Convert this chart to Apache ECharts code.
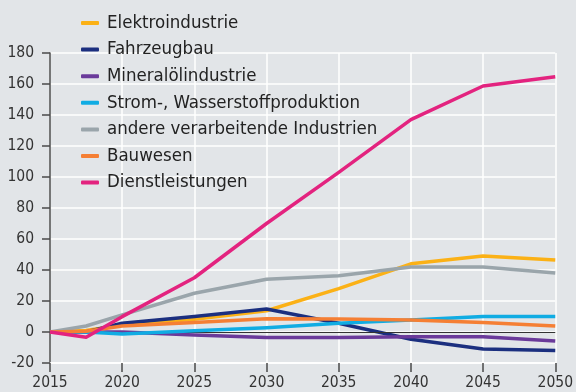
<!DOCTYPE html>
<html>
<head>
<meta charset="utf-8">
<script src="https://cdn.jsdelivr.net/npm/echarts@6/dist/echarts.min.js"></script>
<style>
  html, body { margin: 0; padding: 0; background: #e2e5e8; }
  #chart { width: 576px; height: 392px; }
</style>
</head>
<body>
<div id="chart"></div>
<script>
// Jahre der Stützstellen
const years = [2015, 2017.5, 2020, 2025, 2030, 2035, 2040, 2045, 2050];

// Reihen: Veränderung je Branche
const seriesNames = [
  'Elektroindustrie',
  'Fahrzeugbau',
  'Mineralölindustrie',
  'Strom-, Wasserstoffproduktion',
  'andere verarbeitende Industrien',
  'Bauwesen',
  'Dienstleistungen'
];
const elektro      = [0, 1, 4.5, 8.2, 13.7, 28, 44, 49, 46.5];
const fahrzeug     = [0, 0, 5.6, 10, 14.8, 5.6, -4.7, -11, -12];
const mineraloel   = [0, 0, 0, -2, -3.6, -3.6, -3, -3, -5.8];
const stromH2      = [0, 0, -1.3, 0.8, 2.8, 5.6, 7.7, 10, 10];
const andere       = [0, 3.9, 11, 25, 34, 36.3, 42, 42, 38];
const bauwesen     = [0, 0.5, 3.9, 6.2, 8.6, 8.4, 7.7, 6.2, 3.9];
const dienst       = [0, -3.4, 9.9, 35, 70, 103, 137, 158.7, 164.7];

const colors = ['#fbb116', '#1b2f7f', '#6a3a9a', '#10ace3', '#9aa5ab', '#f57f34', '#e3237f'];
const values = [elektro, fahrzeug, mineraloel, stromH2, andere, bauwesen, dienst];

// Tick-Beschriftungen
const yTicks = [-20, 0, 20, 40, 60, 80, 100, 120, 140, 160, 180];
const xTicks = [2015, 2020, 2025, 2030, 2035, 2040, 2045, 2050];

const font = '"Liberation Sans Narrow", "DejaVu Sans Condensed", "Roboto", sans-serif';
const axisDark = '#4a4a4a';

const lineSeries = values.map((vals, i) => ({
  name: seriesNames[i],
  type: 'line',
  data: years.map((y, k) => [y, vals[k]]),
  symbol: 'none',
  lineStyle: { color: colors[i], width: 3.5, join: 'round' },
  itemStyle: { color: colors[i] },
  z: 3 + i
}));

// Nulllinie unter den Kurven
lineSeries.unshift({
  name: '_null',
  type: 'line',
  data: [],
  z: 1,
  silent: true,
  markLine: {
    silent: true,
    symbol: 'none',
    label: { show: false },
    lineStyle: { color: '#333', width: 1.2, type: 'solid' },
    data: [{ yAxis: 0 }]
  }
});

const chart = echarts.init(document.getElementById('chart'));
chart.setOption({
  backgroundColor: '#e2e5e8',
  animation: false,
  grid: { left: 50, right: 18, top: 53, bottom: 29 },
  legend: {
    data: seriesNames,
    orient: 'vertical',
    left: 81,
    top: 13,
    padding: 0,
    itemWidth: 18,
    itemHeight: 4,
    itemGap: 6.6,
    icon: 'roundRect',
    textStyle: { fontFamily: font, fontSize: 18.5, color: '#222', lineHeight: 20, padding: [0, 0, 0, 3] }
  },
  xAxis: {
    type: 'value',
    min: 2015,
    max: 2050,
    interval: 5,
    axisLine: { onZero: false, lineStyle: { color: '#ffffff', width: 1.5 } },
    axisTick: { show: true, length: 9, lineStyle: { color: axisDark, width: 1.5 } },
    axisLabel: {
      fontFamily: font, fontSize: 15.5, color: '#333', margin: 12,
      formatter: v => xTicks.includes(v) ? String(v) : ''
    },
    splitLine: { show: true, lineStyle: { color: '#ffffff', width: 1.5 } }
  },
  yAxis: {
    type: 'value',
    min: -20,
    max: 180,
    interval: 20,
    axisLine: { show: true, lineStyle: { color: axisDark, width: 1.5 } },
    axisTick: { show: true, length: 8, lineStyle: { color: axisDark, width: 1.5 } },
    axisLabel: {
      fontFamily: font, fontSize: 15.5, color: '#333', margin: 16,
      formatter: v => yTicks.includes(v) ? String(v) : ''
    },
    splitLine: { show: true, lineStyle: { color: '#ffffff', width: 1.5 } }
  },
  series: lineSeries
});
</script>
</body>
</html>
